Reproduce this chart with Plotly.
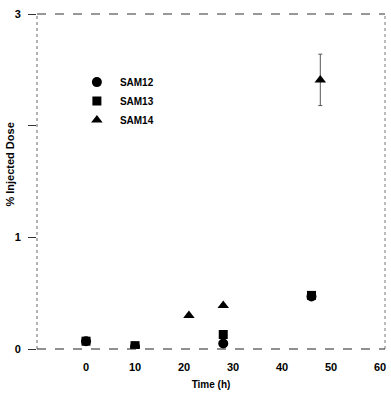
import plotly.graph_objects as go

# Data
sam12_t = [0, 10, 28, 46]
sam12_y = [0.07, 0.02, 0.05, 0.47]
sam13_t = [0, 10, 28, 46]
sam13_y = [0.07, 0.03, 0.13, 0.48]
sam14_t = [21, 28, 47.8]
sam14_y = [0.30, 0.39, 2.41]
sam14_err = [0.0, 0.0, 0.23]

x_ticks = [0, 10, 20, 30, 40, 50, 60]
y_ticks = [0, 1, 2, 3]
y_ticktext = ["0", "1", "", "3"]

FONT = "Liberation Sans, Arial, sans-serif"

fig = go.Figure()
fig.add_trace(go.Scatter(x=sam12_t, y=sam12_y, mode="markers", name="SAM12",
                         marker=dict(symbol="circle", size=10, color="black")))
fig.add_trace(go.Scatter(x=sam13_t, y=sam13_y, mode="markers", name="SAM13",
                         marker=dict(symbol="square", size=9, color="black")))
fig.add_trace(go.Scatter(x=sam14_t, y=sam14_y, mode="markers", name="SAM14",
                         marker=dict(symbol="triangle-up", size=10, color="black"),
                         error_y=dict(type="data", array=sam14_err, visible=True,
                                      color="#555", thickness=1, width=2)))

# frame lines (dashed/dotted as in the scan)
fig.add_shape(type="line", xref="paper", yref="paper", x0=0, x1=1, y0=1, y1=1,
              line=dict(color="#333", width=1.2, dash="dash"))
fig.add_shape(type="line", xref="paper", yref="paper", x0=1, x1=1, y0=0, y1=1,
              line=dict(color="#777", width=1, dash="dot"))
fig.add_shape(type="line", xref="paper", yref="paper", x0=0, x1=0, y0=0, y1=1,
              line=dict(color="#666", width=1, dash="dot"))
fig.add_shape(type="line", xref="paper", yref="paper", x0=0, x1=1, y0=0, y1=0,
              line=dict(color="#222", width=1.2, dash="dash"))

fig.add_annotation(text="% Injected Dose", xref="paper", yref="paper",
                   x=-0.078, y=0.55, textangle=-90, showarrow=False,
                   xanchor="center", yanchor="middle",
                   font=dict(family=FONT, size=11, color="black", weight="bold"))

fig.update_layout(
    width=391, height=394,
    margin=dict(l=37, r=6, t=14, b=45, autoexpand=False),
    paper_bgcolor="white", plot_bgcolor="white",
    font=dict(family=FONT, size=11, color="black", weight="bold"),
    showlegend=True,
    legend=dict(x=0.106, y=0.84, xanchor="left", yanchor="top",
                bgcolor="rgba(0,0,0,0)", borderwidth=0,
                font=dict(family=FONT, size=10, color="black", weight="bold"),
                tracegroupgap=0, itemwidth=36),
    xaxis=dict(range=[-10, 61], tickvals=x_ticks, showgrid=False, zeroline=False,
               showline=False, ticks="", ticklabelstandoff=10, automargin=False,
               title=dict(text="Time (h)", standoff=8,
                          font=dict(family=FONT, size=10, weight="bold"))),
    yaxis=dict(range=[0, 3], tickvals=y_ticks, ticktext=y_ticktext, showgrid=False,
               zeroline=False, showline=False, ticks="outside", ticklen=8,
               automargin=False, tickcolor="#333", ticklabelstandoff=5,
               ticklabeloverflow="allow"),
)

fig.write_html("out.html", config={"displayModeBar": False},
               post_script="document.body.style.margin='0';document.body.style.overflow='hidden';")
